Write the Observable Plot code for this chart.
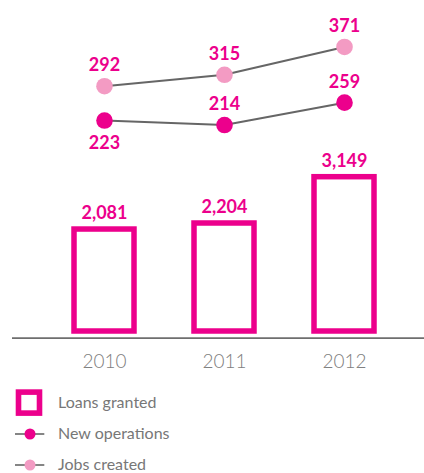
<!DOCTYPE html>
<html>
<head>
<meta charset="utf-8">
<script src="https://cdn.jsdelivr.net/npm/d3@7"></script>
<script src="https://cdn.jsdelivr.net/npm/@observablehq/plot@0.6"></script>
<style>
  html, body { margin: 0; padding: 0; background: #fff; }
  #chart { position: relative; width: 424px; height: 380px; }
  #chart svg { position: absolute; left: 0; top: 0; }
  #legend { width: 424px; height: 93px; padding: 7px 0 0 15px; box-sizing: border-box;
            font-family: Lato, "Open Sans", sans-serif; font-size: 16px; color: #777; }
  .row { display: flex; align-items: center; height: 31px; }
  .row svg { flex: none; display: block; }
  .row span { margin-left: 11px; line-height: 20px; position: relative; top: -1px; }
</style>
</head>
<body>
<div id="chart"></div>
<div id="legend"></div>
<script>
// Annual figures
const years = ["2010", "2011", "2012"];
const loansGranted = [2081, 2204, 3149];
const newOperations = [223, 214, 259];
const jobsCreated = [292, 315, 371];

const magenta = "#ec008c";
const pink = "#f39bc3";
const lineGray = "#666666";
const fmt = d3.format(",");

const loans = years.map((year, i) => ({year, value: loansGranted[i]}));
const ops = years.map((year, i) => ({year, value: newOperations[i], jobs: jobsCreated[i]}));
const jobs = years.map((year, i) => ({year, value: jobsCreated[i]}));

const W = 424, H = 380;
const xScale = {domain: years, paddingInner: 0.5, paddingOuter: 0.25};
const labelFont = {fontFamily: "Lato, 'Open Sans', sans-serif", fontWeight: 700, fontSize: 18, fill: magenta};

// Legend (built first so it shows even if a chart layer fails)
const legendItems = [
  {label: "Loans granted", kind: "bar"},
  {label: "New operations", kind: "line", color: magenta},
  {label: "Jobs created", kind: "line", color: pink}
];
const legend = document.getElementById("legend");
for (const item of legendItems) {
  const row = document.createElement("div");
  row.className = "row";
  const swatch = item.kind === "bar"
    ? `<svg width="32" height="31"><rect x="3.5" y="5.1" width="21" height="21" fill="white" stroke="${magenta}" stroke-width="5.6"/></svg>`
    : `<svg width="32" height="31"><line x1="0" x2="29.3" y1="16" y2="16" stroke="${lineGray}" stroke-width="1.6"/><circle cx="15" cy="16" r="5.5" fill="${item.color}"/></svg>`;
  row.innerHTML = swatch + `<span>${item.label}</span>`;
  legend.appendChild(row);
}

// Bars with value labels and the baseline
const bars = Plot.plot({
  width: W, height: H,
  marginLeft: 43, marginRight: 20, marginTop: 37, marginBottom: 49,
  style: {background: "transparent", overflow: "visible"},
  x: xScale,
  y: {domain: [0, 6000], axis: null},
  marks: [
    Plot.barY(loans, {x: "year", y: "value", fill: "white", stroke: magenta, strokeWidth: 5.5}),
    Plot.text(loans, {x: "year", y: "value", text: d => fmt(d.value), lineAnchor: "bottom", dy: -10.5, ...labelFont}),
    Plot.ruleY([0], {stroke: "#6e6e6e", strokeWidth: 1.8, dy: 6.7, insetLeft: -31, insetRight: -20}),
    Plot.axisX({tickSize: 0, tickPadding: 23, label: null, fontSize: 19, fontWeight: 300,
                fontFamily: "Lato, 'Open Sans', sans-serif", fill: "#808080"})
  ]
});

// Operations and jobs lines on their own vertical scale
const below = d => d.jobs - d.value < 80;
const lines = Plot.plot({
  width: W, height: H,
  marginLeft: 43, marginRight: 20, marginTop: 32, marginBottom: 149,
  style: {background: "transparent", overflow: "visible", pointerEvents: "none"},
  x: {...xScale, axis: null},
  y: {domain: [0, 400], axis: null},
  marks: [
    Plot.lineY(jobs, {x: "year", y: "value", stroke: lineGray, strokeWidth: 2}),
    Plot.lineY(ops, {x: "year", y: "value", stroke: lineGray, strokeWidth: 2}),
    Plot.dot(jobs, {x: "year", y: "value", r: 8.3, fill: pink}),
    Plot.dot(ops, {x: "year", y: "value", r: 8.3, fill: magenta}),
    Plot.text(jobs, {x: "year", y: "value", text: d => fmt(d.value), lineAnchor: "bottom", dy: -15, ...labelFont}),
    Plot.text(ops.filter(d => !below(d)), {x: "year", y: "value", text: d => fmt(d.value), lineAnchor: "bottom", dy: -15, ...labelFont}),
    Plot.text(ops.filter(below), {x: "year", y: "value", text: d => fmt(d.value), lineAnchor: "top", dy: 16, ...labelFont})
  ]
});

const chart = document.getElementById("chart");
chart.appendChild(bars);
chart.appendChild(lines);
</script>
</body>
</html>
